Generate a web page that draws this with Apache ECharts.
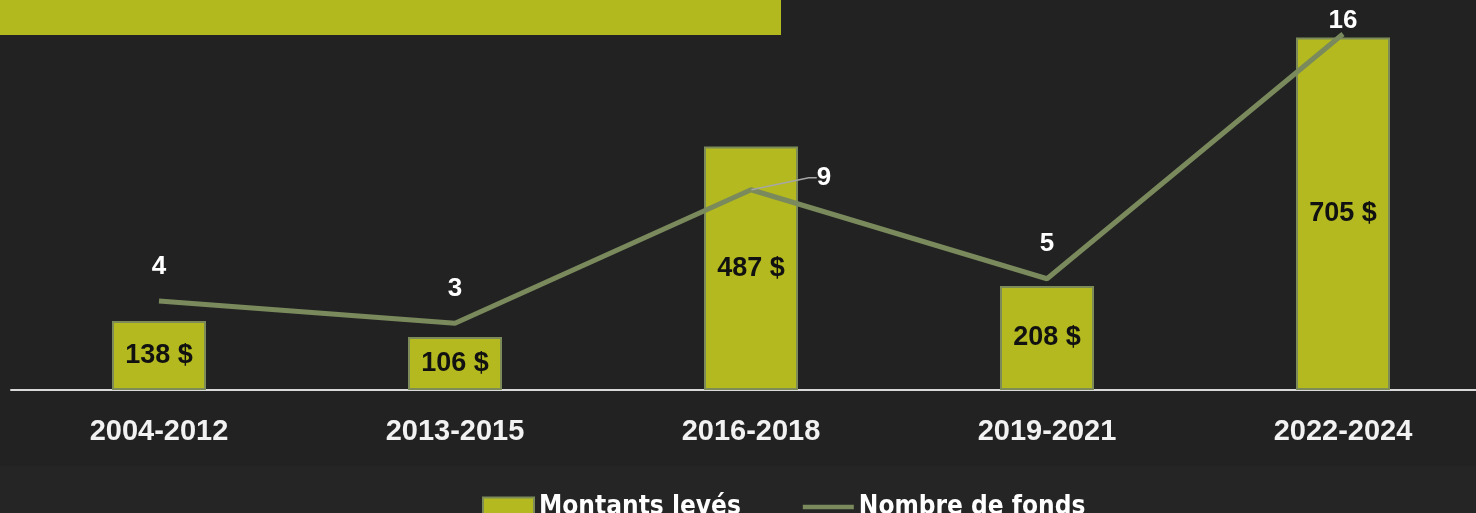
<!DOCTYPE html>
<html>
<head>
<meta charset="utf-8">
<script src="https://cdn.jsdelivr.net/npm/echarts@6/dist/echarts.min.js"></script>
<style>
html,body{margin:0;padding:0;background:#222222;}
#c{width:1476px;height:513px;}
</style>
</head>
<body>
<div id="c"></div>
<script>
const categories = ['2004-2012', '2013-2015', '2016-2018', '2019-2021', '2022-2024'];
const montants = [138, 106, 487, 208, 705];
const fonds = [4, 3, 9, 5, 16];
const seriesNames = ['Montants levés', 'Nombre de fonds'];

const chart = echarts.init(document.getElementById('c'), null, {renderer: 'canvas'});

const labelData = fonds.map(function (v, i) {
  const item = {value: v};
  if (i === fonds.length - 1) item.label = {distance: 0};
  if (i === 2) item.labelLine = {show: true};
  return item;
});

chart.setOption({
  backgroundColor: '#222222',
  animation: false,
  graphic: [
    {type: 'rect', left: 0, top: 0, z: 10, shape: {width: 781, height: 35}, style: {fill: '#b2b91f'}},
    {type: 'rect', left: 0, top: 466, z: -10, silent: true, shape: {width: 1476, height: 47}, style: {fill: '#252525'}}
  ],
  grid: {left: 11, right: -15, top: 10, bottom: 123, containLabel: false, outerBoundsMode: 'none'},
  legend: {
    data: [
      {name: seriesNames[0], icon: 'rect'},
      {name: seriesNames[1], icon: 'path://M0,0H58V5H0Z'}
    ],
    left: 482,
    top: 494,
    padding: 0,
    itemWidth: 51,
    itemHeight: 19,
    itemGap: 62,
    textStyle: {color: '#ffffff', fontWeight: 'bold', fontSize: 26, fontFamily: 'DejaVu Sans Condensed'}
  },
  xAxis: {
    type: 'category',
    data: categories,
    axisLine: {lineStyle: {color: '#d9d9d9', width: 2}},
    axisTick: {show: false},
    axisLabel: {color: '#f2f2f2', fontWeight: 'bold', fontSize: 29, fontFamily: 'Liberation Sans', margin: 27}
  },
  yAxis: [
    {type: 'value', min: 0, max: 760, show: false, splitLine: {show: false}},
    {type: 'value', min: 0, max: 17.08, show: false, splitLine: {show: false}}
  ],
  series: [
    {
      name: seriesNames[0],
      type: 'bar',
      yAxisIndex: 0,
      data: montants,
      barWidth: 94,
      itemStyle: {color: '#b3b91f', borderColor: '#7d8b58', borderWidth: 2},
      label: {
        show: true, position: 'inside', color: '#111111', fontWeight: 'bold', fontSize: 27,
        fontFamily: 'Liberation Sans', formatter: '{c} $'
      }
    },
    {
      name: seriesNames[1],
      type: 'line',
      yAxisIndex: 1,
      data: fonds,
      symbol: 'none',
      clip: false,
      lineStyle: {color: '#7a8a5c', width: 5},
      itemStyle: {color: '#7a8a5c'}
    },
    {
      name: 'labels',
      type: 'scatter',
      yAxisIndex: 1,
      data: labelData,
      symbolSize: 1,
      silent: true,
      clip: false,
      z: 5,
      itemStyle: {color: 'rgba(0,0,0,0)', opacity: 1},
      label: {
        show: true, position: 'top', distance: 21, color: '#ffffff', fontWeight: 'bold', fontSize: 26,
        fontFamily: 'Liberation Sans'
      },
      labelLine: {show: false, length2: 8, lineStyle: {color: '#a6a6a6', width: 1.5}},
      labelLayout: function (p) {
        if (p.dataIndex === 2) {
          return {x: p.rect.x + p.rect.width / 2 + 73, y: p.rect.y + p.rect.height / 2 - 12, align: 'center', verticalAlign: 'middle'};
        }
        return {};
      }
    }
  ]
});
</script>
</body>
</html>
